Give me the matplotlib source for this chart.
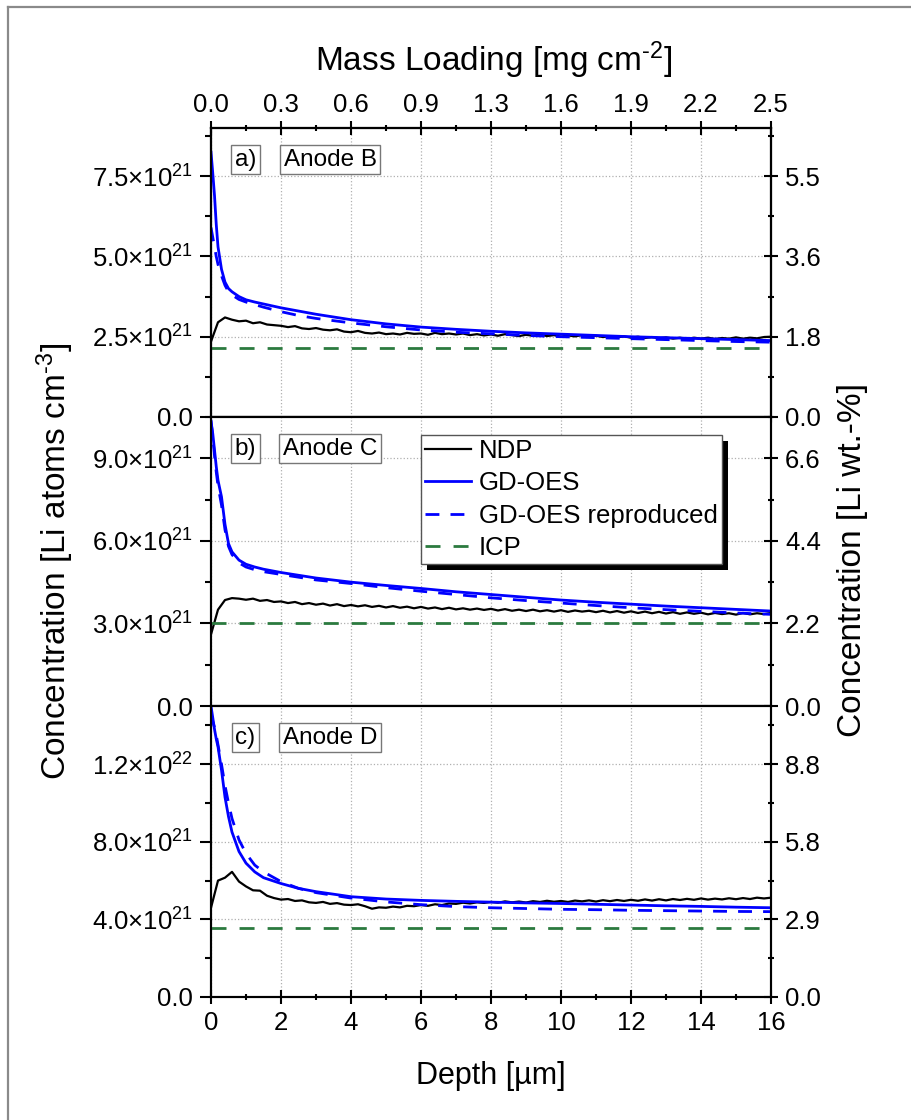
import matplotlib.pyplot as plt
import matplotlib.patheffects as pe
from matplotlib.lines import Line2D
from matplotlib.ticker import MultipleLocator
import numpy as np

plt.rcParams.update({
    'font.family': ['Liberation Sans', 'DejaVu Sans'],
    'mathtext.fontset': 'custom',
    'mathtext.rm': 'Liberation Sans',
    'mathtext.it': 'Liberation Sans:italic',
    'mathtext.bf': 'Liberation Sans:bold',
    'axes.linewidth': 1.5,
})

# ---------------- data (concentrations in 1e21 atoms cm^-3) ----------------
SERIES = ["NDP", "GD-OES", "GD-OES reproduced", "ICP"]

DEPTH_GD = [0, 0.05, 0.1, 0.15, 0.2, 0.3, 0.4, 0.5, 0.6, 0.8, 1.0, 1.25, 1.5, 2, 2.5,
            3, 4, 5, 6, 7, 8, 9, 10, 11, 12, 13, 14, 15, 16]
DEPTH_NDP = np.linspace(0, 16, 81)

# Anode B
gd_b = [8.25, 7.6, 6.9, 6.0, 5.3, 4.6, 4.2, 4.0, 3.9, 3.75, 3.65, 3.58, 3.52, 3.4, 3.3,
        3.2, 3.03, 2.9, 2.8, 2.73, 2.67, 2.62, 2.58, 2.54, 2.5, 2.47, 2.44, 2.41, 2.38]
rep_b = [5.9, 5.6, 5.3, 5.0, 4.75, 4.4, 4.1, 3.9, 3.8, 3.66, 3.58, 3.5, 3.42, 3.28, 3.16,
         3.07, 2.93, 2.81, 2.71, 2.64, 2.59, 2.54, 2.5, 2.47, 2.44, 2.41, 2.38, 2.35, 2.33]
ndp_b = [2.35, 2.95, 3.1, 3.03, 2.98, 3.0, 2.92, 2.95, 2.88, 2.86,
         2.84, 2.8, 2.83, 2.76, 2.74, 2.77, 2.72, 2.7, 2.73, 2.66,
         2.64, 2.68, 2.62, 2.6, 2.63, 2.58, 2.6, 2.57, 2.62, 2.59,
         2.6, 2.56, 2.62, 2.58, 2.6, 2.57, 2.6, 2.55, 2.58, 2.54,
         2.57, 2.53, 2.58, 2.55, 2.52, 2.56, 2.53, 2.57, 2.52, 2.55,
         2.5, 2.54, 2.51, 2.55, 2.5, 2.53, 2.49, 2.52, 2.48, 2.51,
         2.47, 2.5, 2.46, 2.49, 2.45, 2.48, 2.44, 2.47, 2.43, 2.47,
         2.44, 2.47, 2.43, 2.46, 2.44, 2.48, 2.44, 2.47, 2.45, 2.49, 2.5]
icp_b = 2.15

# Anode C
gd_c = [10.3, 9.9, 9.3, 8.7, 8.2, 7.6, 6.6, 5.9, 5.6, 5.3, 5.15, 5.05, 4.97, 4.85, 4.75,
        4.65, 4.5, 4.38, 4.27, 4.15, 4.05, 3.95, 3.85, 3.77, 3.7, 3.63, 3.57, 3.51, 3.45]
rep_c = [10.4, 9.8, 9.1, 8.5, 8.0, 7.3, 6.4, 5.8, 5.5, 5.2, 5.05, 4.95, 4.88, 4.78, 4.68,
         4.58, 4.45, 4.3, 4.17, 4.05, 3.93, 3.83, 3.74, 3.65, 3.57, 3.5, 3.44, 3.38, 3.33]
ndp_c = [2.6, 3.5, 3.85, 3.92, 3.9, 3.86, 3.9, 3.82, 3.85, 3.78,
         3.8, 3.74, 3.78, 3.7, 3.74, 3.68, 3.72, 3.65, 3.7, 3.63,
         3.67, 3.62, 3.66, 3.6, 3.64, 3.58, 3.63, 3.57, 3.61, 3.55,
         3.6, 3.54, 3.58, 3.52, 3.57, 3.51, 3.55, 3.5, 3.54, 3.49,
         3.53, 3.47, 3.52, 3.46, 3.5, 3.45, 3.5, 3.44, 3.48, 3.43,
         3.48, 3.42, 3.47, 3.43, 3.46, 3.41, 3.46, 3.4, 3.45, 3.39,
         3.44, 3.38, 3.43, 3.37, 3.42, 3.36, 3.41, 3.35, 3.4, 3.35,
         3.39, 3.33, 3.38, 3.34, 3.37, 3.32, 3.38, 3.33, 3.37, 3.34, 3.38]
icp_c = 3.0

# Anode D
gd_d = [15.0, 14.4, 13.8, 13.3, 12.9, 11.7, 10.3, 9.3, 8.5, 7.5, 6.9, 6.45, 6.15, 5.85, 5.6,
        5.43, 5.17, 5.05, 4.98, 4.93, 4.89, 4.85, 4.82, 4.78, 4.74, 4.7, 4.67, 4.63, 4.6]
rep_d = [14.6, 14.2, 13.9, 13.5, 13.0, 12.0, 10.9, 10.0, 9.2, 8.1, 7.4, 6.8, 6.45, 5.95, 5.6,
         5.38, 5.1, 4.9, 4.76, 4.66, 4.6, 4.56, 4.52, 4.5, 4.47, 4.45, 4.43, 4.41, 4.4]
ndp_d = [4.6, 6.0, 6.15, 6.45, 5.95, 5.7, 5.5, 5.48, 5.22, 5.1,
         5.02, 5.05, 4.95, 4.98, 4.88, 4.85, 4.9, 4.8, 4.84, 4.76,
         4.74, 4.78, 4.68, 4.55, 4.62, 4.6, 4.66, 4.62, 4.7, 4.68,
         4.74, 4.7, 4.78, 4.74, 4.82, 4.8, 4.86, 4.82, 4.88, 4.85,
         4.9, 4.86, 4.93, 4.88, 4.92, 4.87, 4.94, 4.9, 4.96, 4.91,
         4.95, 4.9, 4.97, 4.93, 4.98, 4.92, 4.99, 4.94, 5.0, 4.95,
         5.01, 4.96, 5.03, 4.97, 5.04, 4.98, 5.05, 5.0, 5.06, 5.01,
         5.08, 5.02, 5.07, 5.03, 5.09, 5.04, 5.1, 5.05, 5.12, 5.08, 5.12]
icp_d = 3.55

# axes scales and tick labels
YMAX = [9.0, 10.5, 15.0]
YTICKS = [[0, 2.5, 5.0, 7.5], [0, 3, 6, 9], [0, 4, 8, 12]]
LEFT_LABELS = [
    ["0.0", "2.5×10$^{21}$", "5.0×10$^{21}$", "7.5×10$^{21}$"],
    ["0.0", "3.0×10$^{21}$", "6.0×10$^{21}$", "9.0×10$^{21}$"],
    ["0.0", "4.0×10$^{21}$", "8.0×10$^{21}$", "1.2×10$^{22}$"],
]
RIGHT_LABELS = [
    ["0.0", "1.8", "3.6", "5.5"],
    ["0.0", "2.2", "4.4", "6.6"],
    ["0.0", "2.9", "5.8", "8.8"],
]
TAGS = ["a)", "b)", "c)"]
NAMES = ["Anode B", "Anode C", "Anode D"]
DEPTH_TICKS = [0, 2, 4, 6, 8, 10, 12, 14, 16]
MASS_LABELS = ["0.0", "0.3", "0.6", "0.9", "1.3", "1.6", "1.9", "2.2", "2.5"]

GREEN = '#2b7a3f'
BLUE = '#0000ff'
TICK_FS = 18.5

W, H = 912, 1120
fig = plt.figure(figsize=(W / 100, H / 100), dpi=100)

# grey frame (top and left edges)
fig.add_artist(Line2D([8 / W, 1], [1 - 7 / H, 1 - 7 / H], color='#8a8a8a', lw=1.6))
fig.add_artist(Line2D([8 / W, 8 / W], [0, 1 - 7 / H], color='#8a8a8a', lw=1.6))

panels = [
    (ndp_b, gd_b, rep_b, icp_b),
    (ndp_c, gd_c, rep_c, icp_c),
    (ndp_d, gd_d, rep_d, icp_d),
]
tops = [128, 417, 706]
bottoms = [417, 706, 997]
left, right = 211, 771

axes = []
for i, (ndp, gd, rep, icp) in enumerate(panels):
    ax = fig.add_axes([left / W, 1 - bottoms[i] / H, (right - left) / W,
                       (bottoms[i] - tops[i]) / H])
    ax.plot(DEPTH_NDP, ndp, color='black', lw=1.6, zorder=3, label=SERIES[0])
    ax.plot(DEPTH_GD, gd, color=BLUE, lw=2.0, zorder=4, label=SERIES[1])
    ax.plot(DEPTH_GD, rep, color=BLUE, lw=2.0, ls=(0, (5, 4)), zorder=4, label=SERIES[2])
    ax.axhline(icp, color=GREEN, lw=2.0, ls=(0, (5.4, 4.7)), zorder=3, label=SERIES[3])

    ax.set_xlim(0, 16)
    ax.set_ylim(0, YMAX[i])
    ax.grid(True, which='major', ls=':', color='#b0b0b0', lw=0.9)

    ax.set_xticks(DEPTH_TICKS)
    ax.xaxis.set_minor_locator(MultipleLocator(1))
    if i == 2:
        ax.tick_params(axis='x', which='major', direction='inout', length=10, width=1.5,
                       labelsize=TICK_FS, pad=5)
        ax.tick_params(axis='x', which='minor', direction='inout', length=5, width=1.5)
    else:
        ax.tick_params(axis='x', which='both', bottom=False, labelbottom=False)

    ystep = YTICKS[i][1]
    ax.set_yticks(YTICKS[i])
    ax.set_yticklabels(LEFT_LABELS[i])
    ax.yaxis.set_minor_locator(MultipleLocator(ystep / 2))
    ax.tick_params(axis='y', which='major', direction='out', length=8, width=1.5,
                   labelsize=TICK_FS, pad=5)
    ax.tick_params(axis='y', which='minor', direction='out', length=4, width=1.5)

    axr = ax.twinx()
    axr.set_ylim(0, YMAX[i])
    axr.set_yticks(YTICKS[i])
    axr.set_yticklabels(RIGHT_LABELS[i])
    axr.yaxis.set_minor_locator(MultipleLocator(ystep / 2))
    axr.tick_params(axis='y', which='major', direction='inout', length=10, width=1.5,
                    labelsize=TICK_FS, pad=5)
    axr.tick_params(axis='y', which='minor', direction='inout', length=5, width=1.5)

    box = dict(boxstyle='square,pad=0.15', fc='white', ec='#777777', lw=1)
    ax.text(0.0616, 0.891, TAGS[i], transform=ax.transAxes, ha='center', va='center',
            fontsize=17.5, bbox=box, zorder=6)
    ax.text(0.2125, 0.891, NAMES[i], transform=ax.transAxes, ha='center', va='center',
            fontsize=17.5, bbox=box, zorder=6)

    if i == 0:
        axt = ax.twiny()
        axt.set_xlim(0, 16)
        axt.set_xticks(DEPTH_TICKS)
        axt.set_xticklabels(MASS_LABELS)
        axt.xaxis.set_minor_locator(MultipleLocator(1))
        axt.tick_params(axis='x', which='major', direction='inout', length=10, width=1.5,
                        labelsize=TICK_FS, pad=3)
        axt.tick_params(axis='x', which='minor', direction='inout', length=5, width=1.5)
    axes.append(ax)

# legend with solid shadow in panel b
leg = axes[1].legend(loc='upper left', bbox_to_anchor=(0.375, 0.938), fontsize=18.5,
                     frameon=True, fancybox=False, framealpha=1, edgecolor='#555555',
                     borderpad=0.15, labelspacing=0.33, handlelength=1.8,
                     handletextpad=0.3, borderaxespad=0)
leg.set_zorder(10)
leg.get_frame().set_linewidth(1)
leg.get_frame().set_path_effects([
    pe.SimplePatchShadow(offset=(4.3, -4.3), shadow_rgbFace='black', alpha=1),
    pe.Normal()])

# axis titles
fig.text(494 / W, 1 - 60 / H, r'Mass Loading [mg cm$^{\text{-}2}$]', ha='center',
         va='center', fontsize=24)
fig.text(491 / W, 1 - 1076 / H, 'Depth [µm]', ha='center', va='center', fontsize=22)
fig.text(55 / W, 1 - 561 / H, r'Concentration [Li atoms cm$^{\text{-}3}$]', rotation=90,
         ha='center', va='center', fontsize=24)
fig.text(853 / W, 1 - 560 / H, 'Concentration [Li wt.-%]', rotation=90,
         ha='center', va='center', fontsize=24)

fig.savefig('out.png', dpi=100)
